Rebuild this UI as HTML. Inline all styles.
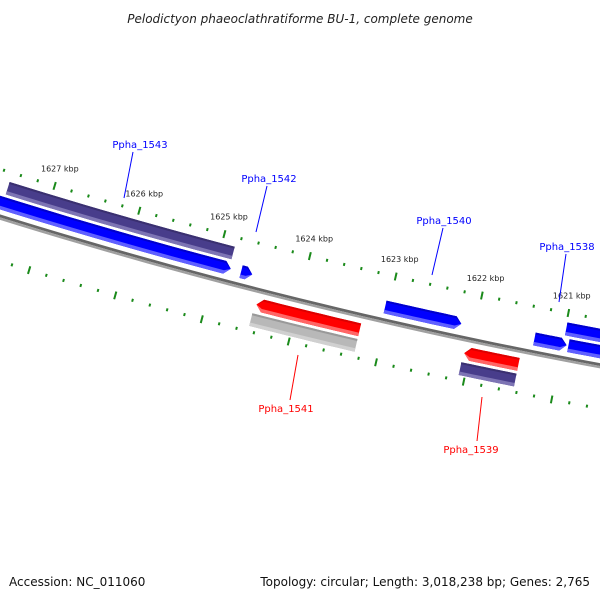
<!DOCTYPE html>
<html><head><meta charset="utf-8"><style>
html,body{margin:0;padding:0;background:#fff;}
svg{display:block;font-family:"DejaVu Sans","Liberation Sans",sans-serif;}
</style></head><body>
<svg id="map" width="600" height="600" viewBox="0 0 600 600" xmlns="http://www.w3.org/2000/svg">
<text x="300" y="23" text-anchor="middle" font-size="12" font-style="italic" fill="#222">Pelodictyon phaeoclathratiforme BU-1, complete genome</text>
<g id="ticks"></g>
<g id="backbone"></g>
<g id="genes"></g>
<g id="labels"></g>
<text x="9" y="586" font-size="12" fill="#111">Accession: NC_011060</text>
<text x="590" y="586" text-anchor="end" font-size="12" fill="#111">Topology: circular; Length: 3,018,238 bp; Genes: 2,765</text>
</svg>
<script>
// data (kbp)
const tickLabels = [1621, 1622, 1623, 1624, 1625, 1626, 1627];
const geneNames = ["Ppha_1543", "Ppha_1543", "Ppha_1542", "Ppha_1540", "Ppha_1538", "Ppha_1537", "Ppha_1537", "Ppha_1541", "Ppha_1541", "Ppha_1539", "Ppha_1539"];
const geneStart = [1628.6, 1627.5, 1624.71, 1623.04, 1621.32, 1620.93, 1620.99, 1624.45, 1624.47, 1622.06, 1622.07];
const geneEnd = [1624.83, 1624.85, 1624.58, 1622.16, 1620.95, 1619.9, 1619.9, 1623.26, 1623.26, 1621.44, 1621.44];
const geneSlot = ["f1", "f2", "f1", "f1", "f1", "f1", "f2", "r1", "r2", "r1", "r2"];
const geneArrow = ["right", "none", "right", "right", "right", "none", "none", "left", "none", "left", "none"];
const geneColor = ["blue", "purple", "blue", "blue", "blue", "blue", "blue", "red", "gray", "red", "purple"];

const NS = "http://www.w3.org/2000/svg";
const CX = 1548, CY = -4747, R = 5200, PHI0 = 103.9, DEG = 0.981;
function P(kbp, off) {
  const phi = (PHI0 + (kbp - 1624) * DEG) * Math.PI / 180;
  const r = R + off;
  return [CX + r * Math.cos(phi), CY + r * Math.sin(phi)];
}
function mk(tag, attrs, parent) {
  const e = document.createElementNS(NS, tag);
  for (const k in attrs) e.setAttribute(k, attrs[k]);
  parent.appendChild(e);
  return e;
}
function arcPts(a, b, off, n) {
  const pts = [];
  for (let i = 0; i <= n; i++) pts.push(P(a + (b - a) * i / n, off));
  return pts;
}
function ptsStr(p) { return p.map(q => q[0].toFixed(2) + "," + q[1].toFixed(2)).join(" "); }

// ticks
const tg = document.getElementById("ticks");
for (let k = 1619.6; k <= 1628.41; k += 0.2) {
  const kk = Math.round(k * 10) / 10;
  const major = Math.abs(kk - Math.round(kk)) < 1e-6;
  const len = major ? 8 : 3;
  [-46, 42].forEach(off => {
    const p1 = P(kk, off - len / 2), p2 = P(kk, off + len / 2);
    const l = mk("line", {x1: p1[0], y1: p1[1], x2: p2[0], y2: p2[1], stroke: "#1a8a1a", "stroke-width": 2}, tg);
    
    
  });
}
tickLabels.forEach(v => {
  const p = P(v, -64);
  const t = mk("text", {x: p[0], y: p[1] + 3, "text-anchor": "middle", "font-size": 8, fill: "#222"}, tg);
  t.textContent = v + " kbp";
  
  
});

// backbone
const bg = document.getElementById("backbone");
const b1 = mk("polyline", {points: ptsStr(arcPts(1619, 1629, -1.3, 40)), fill: "none", stroke: "#666666", "stroke-width": 2.8}, bg);


const b2 = mk("polyline", {points: ptsStr(arcPts(1619, 1629, 1.3, 40)), fill: "none", stroke: "#a0a0a0", "stroke-width": 2.4}, bg);



// genes
const slotOff = {f1: -14, f2: -30, r1: 14, r2: 30};
const palette = {
  blue: ["#0000cc", "#0000ff", "#6060ff"],
  purple: ["#3a3070", "#483d8b", "#7d74b4"],
  red: ["#dd0000", "#ff0000", "#ff6666"],
  gray: ["#999999", "#b8b8b8", "#d0d0d0"]
};
const gg = document.getElementById("genes");
const T = 13, HEAD = 0.07;
geneStart.forEach((a, i) => {
  const b = geneEnd[i], off = slotOff[geneSlot[i]], col = palette[geneColor[i]];
  const g = mk("g", {}, gg);
  
  
  function band(o1, o2, fill) {
    const dir = geneArrow[i];
    let pts;
    if (dir === "right") {
      const bb = b + HEAD;
      const top = arcPts(a, bb, o1, 12), bot = arcPts(bb, a, o2, 12);
      pts = top.concat([P(b, off)], bot);
    } else if (dir === "left") {
      const aa = a - HEAD;
      const top = arcPts(aa, b, o1, 12), bot = arcPts(b, aa, o2, 12);
      pts = [P(a, off)].concat(top, bot);
    } else {
      pts = arcPts(a, b, o1, 12).concat(arcPts(b, a, o2, 12));
    }
    return mk("polygon", {points: ptsStr(pts), fill: fill}, g);
  }
  band(off - T / 2, off + T / 2, col[1]);
  band(off - T / 2, off - T / 2 + 2, col[0]);
  band(off + T / 2 - 3.5, off + T / 2, col[2]);
});

// labels (layout positions)
const lg = document.getElementById("labels");
const labs = [
  ["Ppha_1543", 140, 148, "#0000ff", 133, 152, 124, 198],
  ["Ppha_1542", 269, 182, "#0000ff", 267, 186, 256, 232],
  ["Ppha_1540", 444, 224, "#0000ff", 443, 228, 432, 275],
  ["Ppha_1538", 567, 250, "#0000ff", 566, 254, 559, 302],
  ["Ppha_1541", 286, 412, "#ff0000", 298, 355, 290, 400],
  ["Ppha_1539", 471, 453, "#ff0000", 482, 397, 477, 441]
];
labs.forEach(L => {
  const ln = mk("line", {x1: L[4], y1: L[5], x2: L[6], y2: L[7], stroke: L[3], "stroke-width": 1}, lg);
  
  
  const t = mk("text", {x: L[1], y: L[2], "text-anchor": "middle", "font-size": 10, fill: L[3]}, lg);
  t.textContent = L[0];
  
  
});
</script>
</body></html>
